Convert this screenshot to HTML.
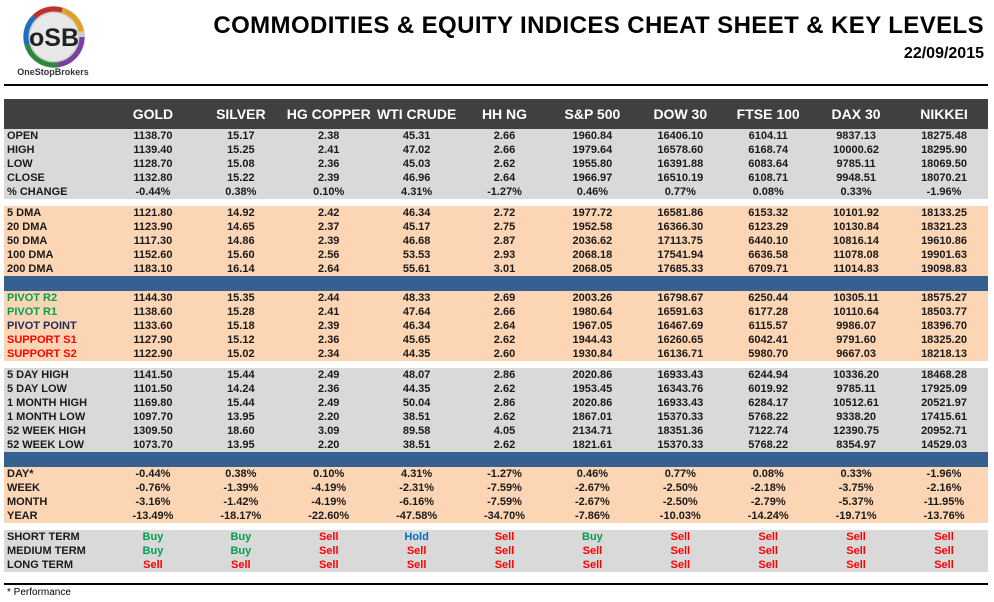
<!DOCTYPE html>
<html><head><meta charset="utf-8"><style>
body{margin:0;width:994px;height:602px;background:#fff;font-family:"Liberation Sans",Arial,sans-serif;position:relative;overflow:hidden}
.title{position:absolute;right:10px;top:12px;font-size:24px;font-weight:bold;color:#000;letter-spacing:0.4px}
.date{position:absolute;right:10px;top:45px;font-size:16px;font-weight:bold}
.hr{position:absolute;left:4px;width:984px;height:2px;background:#000}
table{position:absolute;left:4px;top:99px;width:984px;border-collapse:collapse;table-layout:fixed;font-size:11px;font-weight:bold;color:#1a1a1a}
td{padding:0;height:14px;line-height:14px;text-align:center;white-space:nowrap}
td:first-child{text-align:left;padding-left:3px}
col.l{width:105px}
tr.h td{height:30px;background:#404040;color:#fff;font-size:14px;line-height:30px}
tr.g td{background:#d9d9d9}
tr.p td{background:#fcd5b4}
tr.b td{background:#366092;height:15px}
tr.s td{height:7px;background:#fff}
.gr{color:#00a050}.rd{color:#ff0000}.bl{color:#0070c0}.nv{color:#1f2a5a}
</style></head><body>
<svg style="position:absolute;left:10px;top:2px" width="90" height="78">
<circle cx="44" cy="35" r="31" fill="#ccc"/>
<circle cx="44" cy="35" r="28" fill="none" stroke="#7a3fa0" stroke-width="5" stroke-dasharray="40 200"/>
<circle cx="44" cy="35" r="28" fill="none" stroke="#2a8a3a" stroke-width="5" stroke-dasharray="0 40 40 200"/>
<circle cx="44" cy="35" r="28" fill="none" stroke="#1e6fc0" stroke-width="5" stroke-dasharray="0 80 30 200"/>
<circle cx="44" cy="35" r="28" fill="none" stroke="#c0302a" stroke-width="5" stroke-dasharray="0 110 30 200"/>
<circle cx="44" cy="35" r="28" fill="none" stroke="#e0a020" stroke-width="5" stroke-dasharray="0 140 30 200"/>
<circle cx="44" cy="35" r="24" fill="#e8e8e8"/>
<text x="44" y="44" text-anchor="middle" font-family="Liberation Sans" font-weight="bold" font-size="25" fill="#222">oSB</text>
<text x="43" y="73" text-anchor="middle" font-family="Liberation Sans" font-weight="bold" font-size="9" fill="#333">OneStopBrokers</text>
</svg>
<div class="title">COMMODITIES &amp; EQUITY INDICES CHEAT SHEET &amp; KEY LEVELS</div>
<div class="date">22/09/2015</div>
<div class="hr" style="top:84px"></div>
<table>
<colgroup><col class="l"><col><col><col><col><col><col><col><col><col><col></colgroup>
<tr class="h"><td></td><td>GOLD</td><td>SILVER</td><td>HG COPPER</td><td>WTI CRUDE</td><td>HH NG</td><td>S&amp;P 500</td><td>DOW 30</td><td>FTSE 100</td><td>DAX 30</td><td>NIKKEI</td></tr>
<tr class="g"><td>OPEN</td><td>1138.70</td><td>15.17</td><td>2.38</td><td>45.31</td><td>2.66</td><td>1960.84</td><td>16406.10</td><td>6104.11</td><td>9837.13</td><td>18275.48</td></tr>
<tr class="g"><td>HIGH</td><td>1139.40</td><td>15.25</td><td>2.41</td><td>47.02</td><td>2.66</td><td>1979.64</td><td>16578.60</td><td>6168.74</td><td>10000.62</td><td>18295.90</td></tr>
<tr class="g"><td>LOW</td><td>1128.70</td><td>15.08</td><td>2.36</td><td>45.03</td><td>2.62</td><td>1955.80</td><td>16391.88</td><td>6083.64</td><td>9785.11</td><td>18069.50</td></tr>
<tr class="g"><td>CLOSE</td><td>1132.80</td><td>15.22</td><td>2.39</td><td>46.96</td><td>2.64</td><td>1966.97</td><td>16510.19</td><td>6108.71</td><td>9948.51</td><td>18070.21</td></tr>
<tr class="g"><td>% CHANGE</td><td>-0.44%</td><td>0.38%</td><td>0.10%</td><td>4.31%</td><td>-1.27%</td><td>0.46%</td><td>0.77%</td><td>0.08%</td><td>0.33%</td><td>-1.96%</td></tr>
<tr class="s"><td></td><td colspan="10"></td></tr>
<tr class="p"><td>5 DMA</td><td>1121.80</td><td>14.92</td><td>2.42</td><td>46.34</td><td>2.72</td><td>1977.72</td><td>16581.86</td><td>6153.32</td><td>10101.92</td><td>18133.25</td></tr>
<tr class="p"><td>20 DMA</td><td>1123.90</td><td>14.65</td><td>2.37</td><td>45.17</td><td>2.75</td><td>1952.58</td><td>16366.30</td><td>6123.29</td><td>10130.84</td><td>18321.23</td></tr>
<tr class="p"><td>50 DMA</td><td>1117.30</td><td>14.86</td><td>2.39</td><td>46.68</td><td>2.87</td><td>2036.62</td><td>17113.75</td><td>6440.10</td><td>10816.14</td><td>19610.86</td></tr>
<tr class="p"><td>100 DMA</td><td>1152.60</td><td>15.60</td><td>2.56</td><td>53.53</td><td>2.93</td><td>2068.18</td><td>17541.94</td><td>6636.58</td><td>11078.08</td><td>19901.63</td></tr>
<tr class="p"><td>200 DMA</td><td>1183.10</td><td>16.14</td><td>2.64</td><td>55.61</td><td>3.01</td><td>2068.05</td><td>17685.33</td><td>6709.71</td><td>11014.83</td><td>19098.83</td></tr>
<tr class="b"><td></td><td colspan="10"></td></tr>
<tr class="p"><td class="gr">PIVOT R2</td><td>1144.30</td><td>15.35</td><td>2.44</td><td>48.33</td><td>2.69</td><td>2003.26</td><td>16798.67</td><td>6250.44</td><td>10305.11</td><td>18575.27</td></tr>
<tr class="p"><td class="gr">PIVOT R1</td><td>1138.60</td><td>15.28</td><td>2.41</td><td>47.64</td><td>2.66</td><td>1980.64</td><td>16591.63</td><td>6177.28</td><td>10110.64</td><td>18503.77</td></tr>
<tr class="p"><td class="nv">PIVOT POINT</td><td>1133.60</td><td>15.18</td><td>2.39</td><td>46.34</td><td>2.64</td><td>1967.05</td><td>16467.69</td><td>6115.57</td><td>9986.07</td><td>18396.70</td></tr>
<tr class="p"><td class="rd">SUPPORT S1</td><td>1127.90</td><td>15.12</td><td>2.36</td><td>45.65</td><td>2.62</td><td>1944.43</td><td>16260.65</td><td>6042.41</td><td>9791.60</td><td>18325.20</td></tr>
<tr class="p"><td class="rd">SUPPORT S2</td><td>1122.90</td><td>15.02</td><td>2.34</td><td>44.35</td><td>2.60</td><td>1930.84</td><td>16136.71</td><td>5980.70</td><td>9667.03</td><td>18218.13</td></tr>
<tr class="s"><td></td><td colspan="10"></td></tr>
<tr class="g"><td>5 DAY HIGH</td><td>1141.50</td><td>15.44</td><td>2.49</td><td>48.07</td><td>2.86</td><td>2020.86</td><td>16933.43</td><td>6244.94</td><td>10336.20</td><td>18468.28</td></tr>
<tr class="g"><td>5 DAY LOW</td><td>1101.50</td><td>14.24</td><td>2.36</td><td>44.35</td><td>2.62</td><td>1953.45</td><td>16343.76</td><td>6019.92</td><td>9785.11</td><td>17925.09</td></tr>
<tr class="g"><td>1 MONTH HIGH</td><td>1169.80</td><td>15.44</td><td>2.49</td><td>50.04</td><td>2.86</td><td>2020.86</td><td>16933.43</td><td>6284.17</td><td>10512.61</td><td>20521.97</td></tr>
<tr class="g"><td>1 MONTH LOW</td><td>1097.70</td><td>13.95</td><td>2.20</td><td>38.51</td><td>2.62</td><td>1867.01</td><td>15370.33</td><td>5768.22</td><td>9338.20</td><td>17415.61</td></tr>
<tr class="g"><td>52 WEEK HIGH</td><td>1309.50</td><td>18.60</td><td>3.09</td><td>89.58</td><td>4.05</td><td>2134.71</td><td>18351.36</td><td>7122.74</td><td>12390.75</td><td>20952.71</td></tr>
<tr class="g"><td>52 WEEK LOW</td><td>1073.70</td><td>13.95</td><td>2.20</td><td>38.51</td><td>2.62</td><td>1821.61</td><td>15370.33</td><td>5768.22</td><td>8354.97</td><td>14529.03</td></tr>
<tr class="b"><td></td><td colspan="10"></td></tr>
<tr class="p"><td>DAY*</td><td>-0.44%</td><td>0.38%</td><td>0.10%</td><td>4.31%</td><td>-1.27%</td><td>0.46%</td><td>0.77%</td><td>0.08%</td><td>0.33%</td><td>-1.96%</td></tr>
<tr class="p"><td>WEEK</td><td>-0.76%</td><td>-1.39%</td><td>-4.19%</td><td>-2.31%</td><td>-7.59%</td><td>-2.67%</td><td>-2.50%</td><td>-2.18%</td><td>-3.75%</td><td>-2.16%</td></tr>
<tr class="p"><td>MONTH</td><td>-3.16%</td><td>-1.42%</td><td>-4.19%</td><td>-6.16%</td><td>-7.59%</td><td>-2.67%</td><td>-2.50%</td><td>-2.79%</td><td>-5.37%</td><td>-11.95%</td></tr>
<tr class="p"><td>YEAR</td><td>-13.49%</td><td>-18.17%</td><td>-22.60%</td><td>-47.58%</td><td>-34.70%</td><td>-7.86%</td><td>-10.03%</td><td>-14.24%</td><td>-19.71%</td><td>-13.76%</td></tr>
<tr class="s"><td></td><td colspan="10"></td></tr>
<tr class="g"><td>SHORT TERM</td><td class="gr">Buy</td><td class="gr">Buy</td><td class="rd">Sell</td><td class="bl">Hold</td><td class="rd">Sell</td><td class="gr">Buy</td><td class="rd">Sell</td><td class="rd">Sell</td><td class="rd">Sell</td><td class="rd">Sell</td></tr>
<tr class="g"><td>MEDIUM TERM</td><td class="gr">Buy</td><td class="gr">Buy</td><td class="rd">Sell</td><td class="rd">Sell</td><td class="rd">Sell</td><td class="rd">Sell</td><td class="rd">Sell</td><td class="rd">Sell</td><td class="rd">Sell</td><td class="rd">Sell</td></tr>
<tr class="g"><td>LONG TERM</td><td class="rd">Sell</td><td class="rd">Sell</td><td class="rd">Sell</td><td class="rd">Sell</td><td class="rd">Sell</td><td class="rd">Sell</td><td class="rd">Sell</td><td class="rd">Sell</td><td class="rd">Sell</td><td class="rd">Sell</td></tr>
</table>
<div class="hr" style="top:583px"></div>
<div style="position:absolute;left:7px;top:587px;font-size:10px">* Performance</div>
</body></html>
